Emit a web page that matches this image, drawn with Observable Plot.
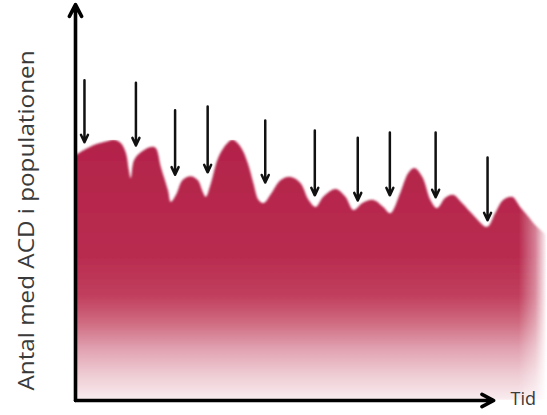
<!DOCTYPE html>
<html>
<head>
<meta charset="utf-8">
<script src="https://cdn.jsdelivr.net/npm/d3@7"></script>
<script src="https://cdn.jsdelivr.net/npm/@observablehq/plot@0.6"></script>
<style>
  html, body { margin: 0; padding: 0; background: #fff; }
  #chart { width: 547px; height: 415px; overflow: hidden; }
</style>
</head>
<body>
<div id="chart"></div>
<script>
// Time (0–100) and number with ACD (0–100) along the wavy top edge
const times = [0, 0.2, 1.9, 4.0, 7.0, 8.2, 9.7, 10.8, 11.4, 11.8, 12.5, 14.0, 16.1, 17.1, 18.2, 19.7, 20.3, 21.4, 22.8, 24.5, 26.0, 27.1, 27.7, 28.8, 30.4, 32.3, 33.4, 35.1, 36.6, 37.8, 38.9, 40.0, 41.4, 43.6, 45.7, 47.8, 49.5, 51.0, 52.6, 55.2, 57.3, 59.0, 60.9, 63.2, 65.3, 66.8, 68.9, 70.6, 71.9, 73.6, 75.3, 76.7, 78.4, 80.1, 82.0, 84.4, 87.3, 89.0, 90.7, 92.6, 94.3, 95.8, 97.9, 100];
const counts = [62.6, 62.8, 64.1, 65.4, 66.4, 66.7, 65.9, 63.3, 59.0, 56.9, 61.5, 63.6, 64.9, 64.6, 59.7, 53.8, 50.8, 52.6, 56.4, 57.4, 56.4, 53.3, 52.1, 55.6, 62.3, 65.9, 66.7, 64.9, 60.8, 55.6, 51.3, 50.5, 52.6, 56.4, 57.2, 55.6, 51.3, 49.5, 52.1, 54.1, 52.1, 48.7, 50.5, 51.3, 49.5, 47.9, 53.1, 58.2, 59.5, 57.2, 51.3, 49.2, 51.8, 52.6, 50.5, 47.4, 44.4, 47.9, 51.3, 52.1, 49.5, 47.4, 44.4, 42.3];

// Downward arrows marking the dips
const arrowTimes = [1.9, 12.8, 21.1, 28.0, 40.2, 50.7, 59.8, 66.6, 76.3, 87.3];
const arrowTops  = [82.1, 81.5, 74.4, 75.4, 71.8, 69.2, 67.4, 68.7, 68.7, 62.3];
const arrowTips  = [66.2, 65.4, 57.9, 58.5, 55.9, 52.6, 51.3, 52.6, 52.1, 46.2];

// Axis extents
const xAxisEnd = 88.6;
const yAxisEnd = 101.5;

const yLabel = "Antal med ACD i populationen";
const xLabel = "Tid";

const profile = times.map((t, i) => ({t, v: counts[i]}));
const arrows = arrowTimes.map((t, i) => ({t, top: arrowTops[i], tip: arrowTips[i]}));
const axes = [
  {x1: 0, y1: 0, x2: 0, y2: yAxisEnd},
  {x1: 0, y1: 0, x2: xAxisEnd, y2: 0}
];

const plot = Plot.plot({
  width: 547,
  height: 415,
  marginLeft: 75,
  marginRight: 0,
  marginTop: 10,
  marginBottom: 15,
  style: {background: "#fff", fontFamily: "'Open Sans', sans-serif", overflow: "visible"},
  x: {domain: [0, 100], axis: null},
  y: {domain: [0, 100], axis: null},
  marks: [
    Plot.areaY(profile, {x: "t", y: "v", curve: "catmull-rom", fill: "url(#acdFill)"}),
    Plot.arrow(arrows, {x: "t", y1: "top", y2: "tip", stroke: "#111", strokeWidth: 2.5, headLength: 5, headAngle: 50}),
    Plot.arrow(axes, {x1: "x1", y1: "y1", x2: "x2", y2: "y2", stroke: "#000", strokeWidth: 3.6, headLength: 5.5, headAngle: 55}),
    Plot.text([yLabel], {frameAnchor: "left", textAnchor: "start", dx: -48, dy: 185, rotate: -90, fontSize: 21, fill: "#3a3a3a"}),
    Plot.text([xLabel], {frameAnchor: "bottom-right", textAnchor: "start", dx: -37, dy: 4, fontSize: 18, fill: "#3a3a3a"})
  ]
});

const svg = d3.select(plot);
const defs = svg.insert("defs", ":first-child");
const g = defs.append("linearGradient").attr("id", "acdFill")
  .attr("x1", 0).attr("y1", 0).attr("x2", 0).attr("y2", 1);
[[0, "#b3234a"], [0.45, "#b92c50"], [0.6, "#c13f5e"], [0.7, "#cf6a80"],
 [0.8, "#e0a0af"], [0.9, "#eecbd3"], [1, "#f9ecef"]].forEach(([o, c]) =>
  g.append("stop").attr("offset", o).attr("stop-color", c));
const hg = defs.append("linearGradient").attr("id", "fadeRight")
  .attr("x1", 0).attr("y1", 0).attr("x2", 1).attr("y2", 0);
[[0, "#fff"], [0.94, "#fff"], [0.975, "#999"], [1, "#000"]].forEach(([o, c]) =>
  hg.append("stop").attr("offset", o).attr("stop-color", c));
const mask = defs.append("mask").attr("id", "rightMask").attr("maskContentUnits", "objectBoundingBox");
mask.append("rect").attr("x", 0).attr("y", 0).attr("width", 1).attr("height", 1).attr("fill", "url(#fadeRight)");
const blur = defs.append("filter").attr("id", "soft").attr("x", "-5%").attr("y", "-5%").attr("width", "110%").attr("height", "110%");
blur.append("feGaussianBlur").attr("stdDeviation", 0.8);
svg.select('g[aria-label="area"]').attr("mask", "url(#rightMask)").attr("filter", "url(#soft)");

// stretch the y label along its length as in the reference
svg.selectAll('g[aria-label="text"] text').filter(function() { return this.textContent === yLabel; })
  .attr("textLength", 340).attr("lengthAdjust", "spacingAndGlyphs");

document.getElementById("chart").appendChild(plot);
</script>
</body>
</html>
